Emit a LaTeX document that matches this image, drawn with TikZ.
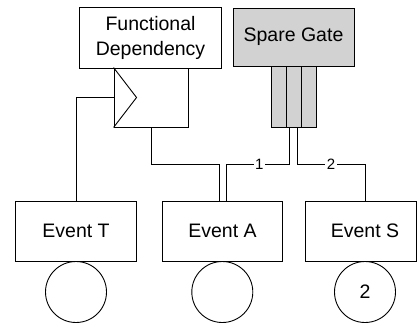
\documentclass[tikz,border=0pt]{standalone}
\usepackage{fontspec}
\setmainfont{Liberation Sans}
\usetikzlibrary{calc}
\definecolor{sparegray}{RGB}{210,210,210}
\begin{document}
\begin{tikzpicture}[x=1pt,y=-1pt,
  every path/.style={line width=0.9pt},
  box/.style={draw, rectangle, inner sep=0pt, font=\fontsize{19.5}{25}\selectfont, align=center},
  evbox/.style={box, minimum width=120.5pt, minimum height=60pt},
  circ/.style={draw, circle, minimum size=61pt, inner sep=0pt, font=\fontsize{19.5}{25}\selectfont},
  slot/.style={draw, rectangle, fill=sparegray, minimum width=15pt, minimum height=61pt, inner sep=0pt},
  lbl/.style={fill=white, inner sep=1.5pt, font=\fontsize{15}{17}\selectfont}]
\useasboundingbox (0,0) rectangle (417,327);
% top boxes
\node[box, minimum width=142.5pt, minimum height=61pt] (fd) at (150.5,37.5) {Functional\\Dependency};
\node[box, fill=sparegray, minimum width=121pt, minimum height=58pt] (sg) at (293.5,37) {Spare Gate};
% FDEP trigger rectangle
\node[draw, rectangle, minimum width=74pt, minimum height=59pt, inner sep=0pt] (fdr) at (151,97.5) {};
\draw (fdr.north west) -- ($(fdr.west)+(23,0)$) -- (fdr.south west);
% spare slots
\node[slot] (s1) at (278.5,96.5) {};
\node[slot] (s2) at (293.5,96.5) {};
\node[slot] (s3) at (308.5,96.5) {};
% events
\node[evbox] (T) at (76,231) {Event T};
\node[evbox] (A) at (222.5,231) {Event A};
\node[box, minimum width=111.5pt, minimum height=60pt] (S) at (360.75,231) {\hspace*{8.5pt}Event S};
% circles
\node[circ] (cT) at (76,292) {};
\node[circ] (cA) at (222.3,292) {};
\node[circ] (cS) at (365,292) {2};
% connectors
\draw (fdr.west) -| (T.north);
\draw (fdr.south) |- (219,164) -- ($(A.north)+(-3.5,0)$);
\draw ($(s2.south)+(-4,0)$) |- (226.5,164) node[lbl, pos=0.74] {1} -- ($(A.north)+(4,0)$);
\draw ($(s2.south)+(3.5,0)$) |- (365,164) node[lbl, pos=0.75] {2} -- (cS.north |- S.north);
\end{tikzpicture}
\end{document}
